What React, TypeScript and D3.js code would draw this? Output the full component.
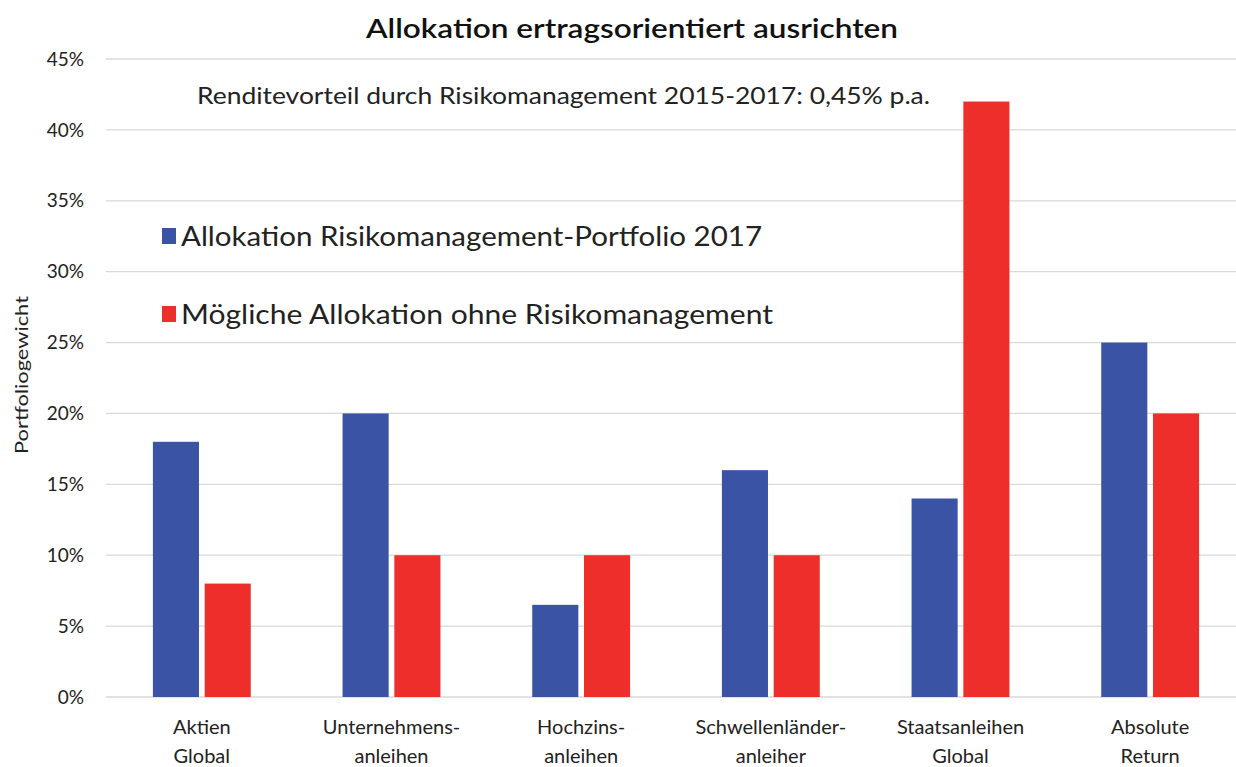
import * as d3 from 'd3';
import * as React from 'react';

const width = 1236;
const height = 767;
const margin = { top: 59, right: -9, bottom: 70, left: 107 };

const categories = [
  ['Aktien', 'Global'],
  ['Unternehmens-', 'anleihen'],
  ['Hochzins-', 'anleihen'],
  ['Schwellenländer-', 'anleiher'],
  ['Staatsanleihen', 'Global'],
  ['Absolute', 'Return'],
];
const seriesNames = [
  'Allokation Risikomanagement-Portfolio 2017',
  'Mögliche Allokation ohne Risikomanagement',
];
const withRisk = [18, 20, 6.5, 16, 14, 25];
const withoutRisk = [8, 10, 10, 10, 42, 20];
const yTicks = [0, 5, 10, 15, 20, 25, 30, 35, 40, 45];
const colors = ['#3a53a4', '#ee2e2a'];

const font = 'Lato, "Open Sans", sans-serif';

export default function App() {
  const x = d3
    .scaleBand<number>()
    .domain(d3.range(categories.length))
    .range([margin.left, width - margin.right])
    .paddingInner(0.484)
    .paddingOuter(0.242);
  const inner = d3
    .scaleBand<number>()
    .domain([0, 1])
    .range([0, x.bandwidth()])
    .paddingInner(0.11);
  const y = d3
    .scaleLinear()
    .domain([0, 45])
    .range([height - margin.bottom, margin.top]);

  const series = [withRisk, withoutRisk];

  return (
    <svg
      width={width}
      height={height}
      style={{ position: 'absolute', left: 0, top: 0, background: '#fff' }}
      fontFamily={font}
    >
      {yTicks.map(t => (
        <g key={t}>
          <line
            x1={margin.left - 1}
            x2={width}
            y1={y(t)}
            y2={y(t)}
            stroke="#d9d9d9"
            strokeWidth={1.3}
          />
          <text
            x={84}
            y={y(t)}
            dy="0.35em"
            textAnchor="end"
            fontSize={19}
            fill="#222"
          >
            {t}%
          </text>
        </g>
      ))}

      {series.map((vals, s) =>
        vals.map((v, i) => (
          <rect
            key={`${s}-${i}`}
            x={(x(i) as number) + (inner(s) as number)}
            width={inner.bandwidth()}
            y={y(v)}
            height={y(0) - y(v)}
            fill={colors[s]}
          />
        )),
      )}

      {categories.map((lines, i) => {
        const cx = (x(i) as number) + x.bandwidth() / 2;
        return (
          <text key={i} textAnchor="middle" fontSize={20} fill="#222">
            <tspan x={cx} y={734}>
              {lines[0]}
            </tspan>
            <tspan x={cx} y={763}>
              {lines[1]}
            </tspan>
          </text>
        );
      })}

      <text
        transform={`translate(28,375) rotate(-90)`}
        textAnchor="middle"
        fontSize={18}
        fill="#222"
        textLength={158}
        lengthAdjust="spacingAndGlyphs"
      >
        Portfoliogewicht
      </text>

      <text
        x={632}
        y={38}
        textAnchor="middle"
        fontSize={27}
        fontWeight={600}
        fill="#111"
        textLength={532}
        lengthAdjust="spacingAndGlyphs"
      >
        Allokation ertragsorientiert ausrichten
      </text>

      <text
        x={197}
        y={104}
        fontSize={23}
        fill="#222"
        textLength={733}
        lengthAdjust="spacingAndGlyphs"
      >
        Renditevorteil durch Risikomanagement 2015-2017: 0,45% p.a.
      </text>

      {seriesNames.map((name, s) => (
        <g key={name} transform={`translate(162,${236 + s * 78})`}>
          <rect x={0} y={-8} width={14} height={16} fill={colors[s]} />
          <text
            x={19}
            y={0}
            dy="0.36em"
            fontSize={27}
            fill="#222"
            textLength={s === 0 ? 581 : 592}
            lengthAdjust="spacingAndGlyphs"
          >
            {name}
          </text>
        </g>
      ))}
    </svg>
  );
}
